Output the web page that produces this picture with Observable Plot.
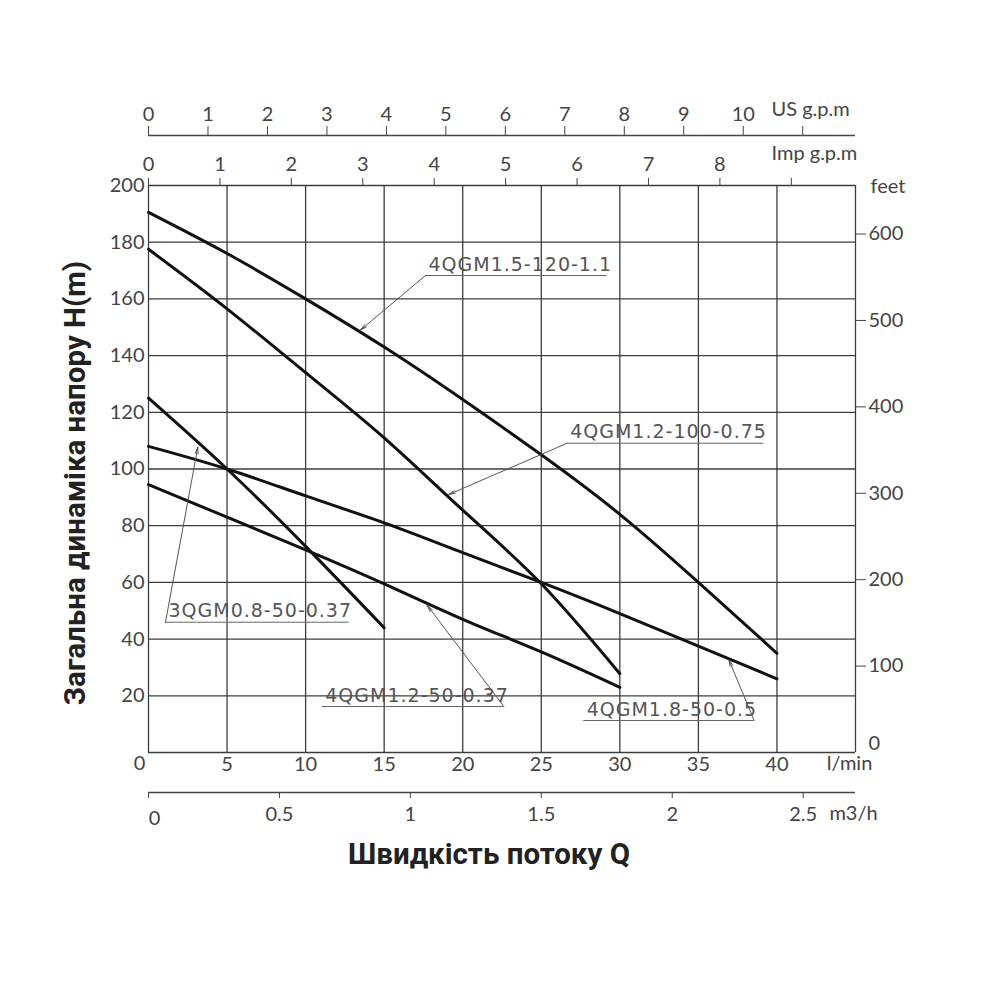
<!DOCTYPE html>
<html><head><meta charset="utf-8">
<script src="https://cdn.jsdelivr.net/npm/d3@7"></script>
<script src="https://cdn.jsdelivr.net/npm/@observablehq/plot@0.6"></script>
<style>
html,body{margin:0;padding:0;background:#fff;}
g[aria-description="annotation"] text{letter-spacing:1.0px;}
</style></head><body><div id="chart"></div>
<script>
// ---- data (flow in l/min, head in m) ----
const flowLpm = [0, 5, 10, 15, 20, 25, 30, 35, 40];
const seriesNames = ["4QGM1.5-120-1.1", "4QGM1.2-100-0.75", "4QGM1.8-50-0.5", "3QGM0.8-50-0.37", "4QGM1.2-50-0.37"];
const head_4QGM15_120 = [190.5, 176, 160, 143, 124.5, 105, 84, 60, 35];
const head_4QGM12_100 = [177.5, 156.5, 134, 111, 85.5, 59.5, 27.8];
const head_4QGM18_50  = [108, 100, 90.5, 81, 70.5, 60, 49, 37.5, 26];
const head_3QGM08_50  = [125, 100, 72.7, 44];
const head_4QGM12_50  = [94.5, 83, 71.5, 59.5, 47, 35.5, 23];

// grid / tick values
const gridFlow = [0, 5, 10, 15, 20, 25, 30, 35, 40, 45];
const gridHead = [0, 20, 40, 60, 80, 100, 120, 140, 160, 180, 200];
const lpmLabels = [5, 10, 15, 20, 25, 30, 35, 40];
const usGpmTicks = [0, 1, 2, 3, 4, 5, 6, 7, 8, 9, 10, 11];
const impGpmTicks = [0, 1, 2, 3, 4, 5, 6, 7, 8, 9];
const m3hTicks = [0, 0.5, 1, 1.5, 2, 2.5];
const feetTicks = [100, 200, 300, 400, 500, 600];

// unit conversions
const LPM_PER_US_GPM = 3.785411784;
const LPM_PER_IMP_GPM = 4.54609;
const LPM_PER_M3H = 1000 / 60;
const M_PER_FT = 0.3048;

// annotations (data units: l/min, m)
const annotLabel = ["4QGM1.5-120-1.1", "4QGM1.2-100-0.75", "3QGM0.8-50-0.37", "4QGM1.2-50-0.37", "4QGM1.8-50-0.5"];
const annotQ1 = [17.63, 26.65, 1.08, 11.06, 27.7];
const annotQ2 = [29.19, 39.16, 12.76, 22.62, 38.55];
const annotH  = [168.25, 109.1, 45.96, 16.23, 11.29];
const annotFromRight = [false, false, false, true, true];
const annotTipQ = [13.49, 19.11, 3.14, 17.74, 36.94];
const annotTipH = [149.0, 91.0, 107.7, 51.9, 32.7];

const yTitle = "Загальна динаміка напору H(m)";
const xTitle = "Швидкість потоку Q";

// ---- build tables ----
const seriesHeads = [head_4QGM15_120, head_4QGM12_100, head_4QGM18_50, head_3QGM08_50, head_4QGM12_50];
const rows = seriesHeads.flatMap((hs, s) => hs.map((h, i) => ({series: seriesNames[s], q: flowLpm[i], h})));
const annots = annotLabel.map((label, i) => ({
  label, q1: annotQ1[i], q2: annotQ2[i], h: annotH[i],
  fq: annotFromRight[i] ? annotQ2[i] : annotQ1[i],
  tq: annotTipQ[i], th: annotTipH[i]
}));

const gridColor = "#3d3d3d";
const axisColor = "#444";

const plot = Plot.plot({
  width: 1000, height: 1000,
  marginLeft: 148, marginRight: 145, marginTop: 185, marginBottom: 248,
  x: {domain: [0, 45]},
  y: {domain: [0, 200]},
  style: {fontFamily: "Lato, sans-serif", fontSize: "20px", color: axisColor, background: "#fff", overflow: "visible"},
  marks: [
    Plot.ruleX(gridFlow, {x: d => d, stroke: gridColor, strokeWidth: 1.3}),
    Plot.ruleY(gridHead, {y: d => d, stroke: gridColor, strokeWidth: 1.3}),
    Plot.line(rows, {x: "q", y: "h", z: "series", stroke: "#111", strokeWidth: 3, curve: "natural"}),
    // annotations
    Plot.ruleY(annots, {y: "h", x1: "q1", x2: "q2", stroke: "#666", strokeWidth: 1}),
    Plot.arrow(annots, {x1: "fq", y1: "h", x2: "tq", y2: "th", stroke: "#555", strokeWidth: 1, headLength: 10, headAngle: 24}),
    Plot.text(annots, {x: "q1", y: "h", text: "label", textAnchor: "start", lineAnchor: "middle", dx: 3, dy: -11,
      fontFamily: "DejaVu Sans", fontSize: 19, fill: "#555", ariaDescription: "annotation"}),
    // left head axis
    Plot.axisY(gridHead.filter(v => v > 0), {anchor: "left", tickSize: 0, tickPadding: 4, label: null}),
    // right feet axis
    Plot.axisY(feetTicks.map(f => f * M_PER_FT), {anchor: "right", tickSize: 10, tickPadding: 3, stroke: axisColor,
      tickFormat: d => String(Math.round(d / M_PER_FT)), label: null}),
    Plot.text(["0"], {frameAnchor: "bottom-right", textAnchor: "start", lineAnchor: "middle", dx: 13, dy: -9}),
    Plot.text(["feet"], {frameAnchor: "top-right", textAnchor: "start", lineAnchor: "middle", dx: 15, dy: 1}),
    // bottom l/min axis
    Plot.axisX(lpmLabels, {anchor: "bottom", tickSize: 0, tickPadding: 4, label: null}),
    Plot.text(["0"], {frameAnchor: "bottom-left", textAnchor: "middle", lineAnchor: "middle", dx: -9, dy: 11}),
    Plot.text(["l/min"], {frameAnchor: "bottom-right", textAnchor: "middle", lineAnchor: "middle", dx: -6, dy: 11}),
    // m3/h axis
    Plot.ruleY([0], {dy: 40, stroke: axisColor, strokeWidth: 1.3}),
    Plot.axisX(m3hTicks.map(v => v * LPM_PER_M3H), {anchor: "bottom", dy: 40, tickSize: 6, tickPadding: 8, stroke: axisColor,
      tickFormat: d => { const v = Math.round(d / LPM_PER_M3H * 10) / 10; return v === 0 ? "" : String(v); }, label: null}),
    Plot.text(["0"], {frameAnchor: "bottom-left", textAnchor: "middle", lineAnchor: "middle", dx: 6, dy: 66}),
    Plot.text(["m3/h"], {frameAnchor: "bottom-right", textAnchor: "middle", lineAnchor: "middle", dx: -2, dy: 61}),
    // US gpm axis
    Plot.ruleY([200], {dy: -50, stroke: axisColor, strokeWidth: 1.3}),
    Plot.axisX(usGpmTicks.map(v => v * LPM_PER_US_GPM), {anchor: "top", dy: -50, tickSize: 10, tickPadding: 5, stroke: axisColor,
      tickFormat: d => { const v = Math.round(d / LPM_PER_US_GPM); return v === 11 ? "" : String(v); }, label: null}),
    Plot.text(["US g.p.m"], {frameAnchor: "top-right", textAnchor: "start", lineAnchor: "middle", dx: -84, dy: -76}),
    // Imp gpm axis
    Plot.axisX(impGpmTicks.map(v => v * LPM_PER_IMP_GPM), {anchor: "top", tickSize: 8, tickPadding: 7, stroke: axisColor,
      tickFormat: d => { const v = Math.round(d / LPM_PER_IMP_GPM); return v === 9 ? "" : String(v); }, label: null}),
    Plot.text(["Imp g.p.m"], {frameAnchor: "top-right", textAnchor: "start", lineAnchor: "middle", dx: -84, dy: -32}),
    // titles
    Plot.text([yTitle], {frameAnchor: "left", textAnchor: "middle", rotate: -90, dx: -73, dy: 14, fontFamily: "Roboto", fontWeight: "bold", fontSize: 29.5, fill: "#222"}),
    Plot.text([xTitle], {frameAnchor: "bottom", textAnchor: "middle", dx: -13, dy: 111, fontFamily: "Roboto", fontWeight: "bold", fontSize: 29.5, fill: "#222"})
  ]
});
document.getElementById("chart").append(plot);
</script></body></html>
